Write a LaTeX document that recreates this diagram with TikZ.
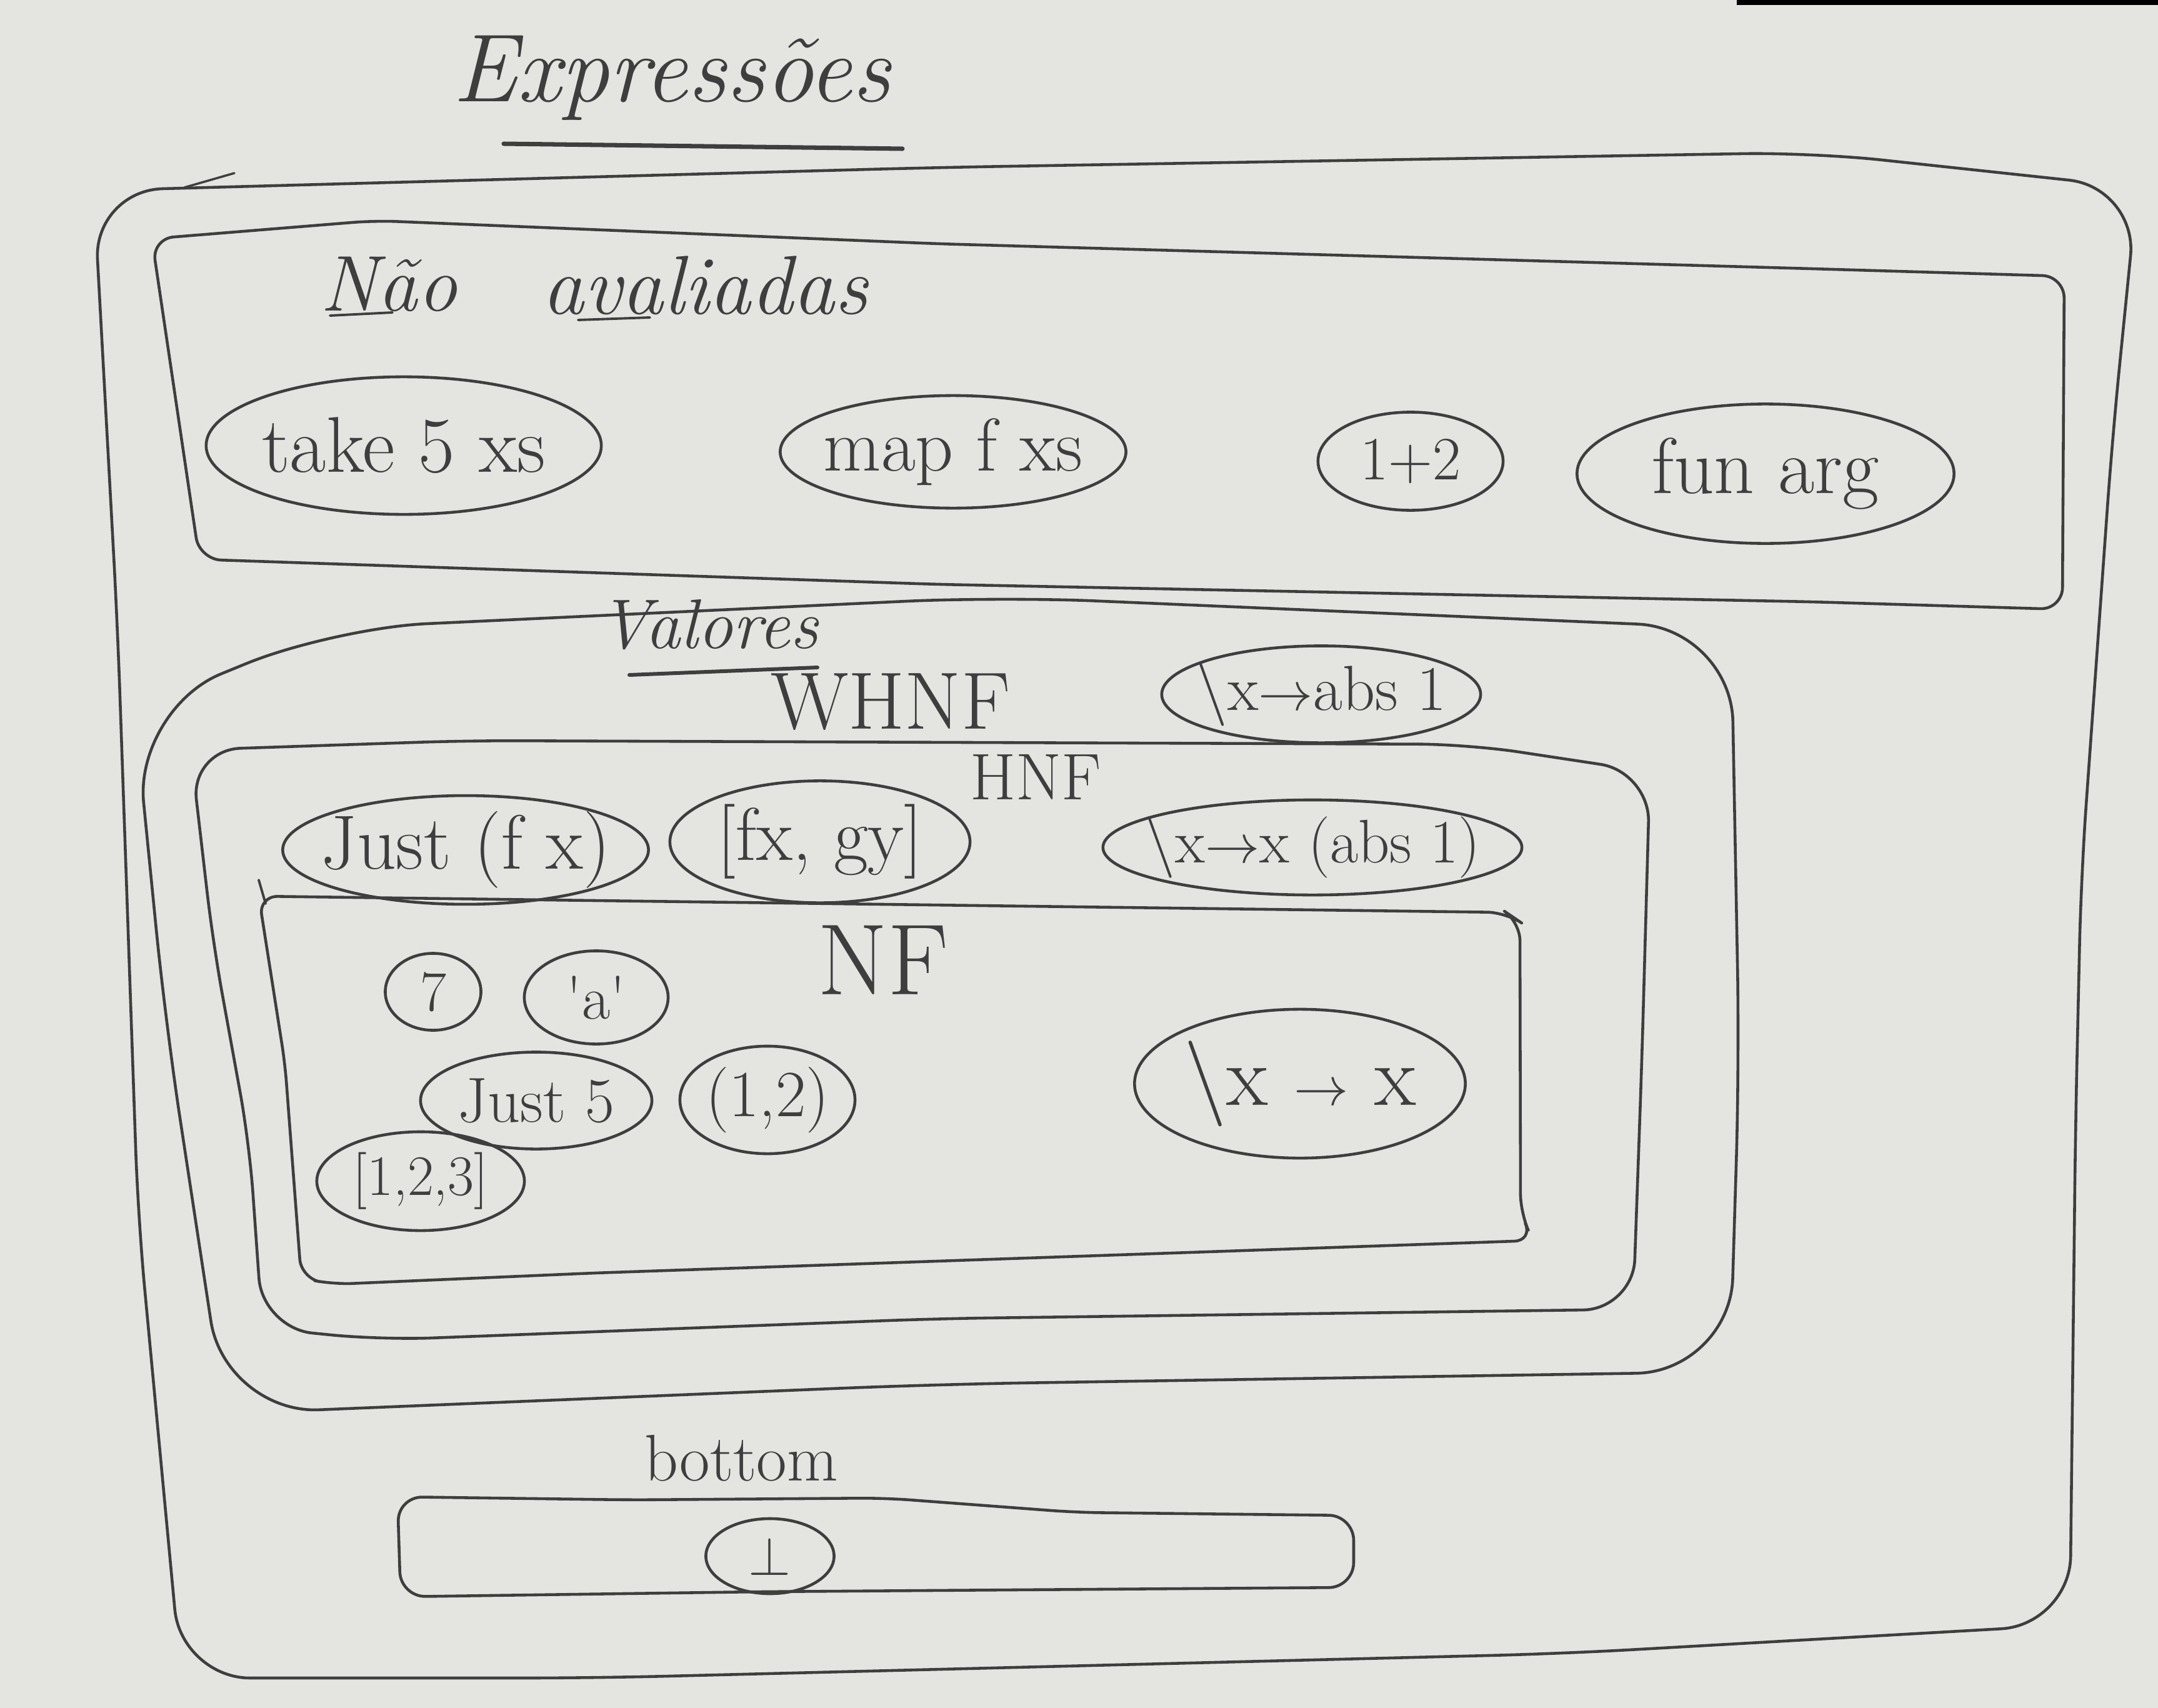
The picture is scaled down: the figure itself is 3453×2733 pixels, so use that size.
\documentclass[tikz,border=0pt]{standalone}
\usepackage{fontspec}
\usetikzlibrary{shapes.geometric}
\definecolor{paper}{RGB}{228,228,225}
\definecolor{pencil}{RGB}{62,62,62}
\begin{document}
\begin{tikzpicture}[x=0.01cm, y=-0.01cm,
  box/.style={draw=pencil, line width=1.3pt, rounded corners=#1, line join=round},
  box/.default=0.8cm,
  stroke/.style={draw=pencil, line width=1.3pt, line cap=round},
  blob/.style={draw=pencil, line width=1.3pt, ellipse, inner sep=0pt, text=pencil},
  lbl/.style={text=pencil, inner sep=0pt},
  fs/.style={font=\fontsize{#1}{#1}\selectfont},
  hand/.style={font=\fontsize{#1}{#1}\selectfont\itshape},
]
% sheet
\useasboundingbox (0,0) rectangle (3453,2733);
\fill[paper] (0,0) rectangle (3453,2733);
\fill[black] (2779,0) rectangle (3453,8);

% title
\node[lbl, hand=44] (title) at (1075,125) {Expressões};
\draw[stroke, line width=2pt] (806,230) -- (1444,238);

% outer frame: all expressions
\draw[box=1.1cm] (150,305) -- (1500,268) -- (2900,244) -- (3420,300)
  -- (3380,700) -- (3330,1400) -- (3321,1800) -- (3312,2600)
  -- (2500,2646) -- (950,2685) -- (290,2685)
  -- (221,1950) -- (188,1000) -- cycle;
\draw[stroke, line width=1pt] (295,300) -- (375,277);

% unevaluated expressions
\draw[box=0.35cm] (243,382) -- (600,353) -- (1500,390) -- (2900,430)
  -- (3303,442) -- (3300,975) -- (2900,963) -- (1500,935) -- (319,895) -- cycle;
\node[lbl, hand=36] (nao) at (622,455) {Não};
\node[lbl, hand=38] (aval) at (1128,457) {avaliadas};
\draw[stroke, line width=1.1pt] (528,505) -- (628,500);
\draw[stroke, line width=1.1pt] (925,512) -- (1040,508);

\node[blob, minimum width=6.32cm, minimum height=2.2cm, fs=36] (take) at (646,713) {\makebox[0pt]{take 5 xs}};
\node[blob, minimum width=5.53cm, minimum height=1.8cm, fs=34] (map) at (1525,723) {\makebox[0pt]{map f xs}};
\node[blob, minimum width=2.96cm, minimum height=1.57cm, fs=28] (onetwo) at (2257,738) {\makebox[0pt]{1+2}};
\node[blob, minimum width=6.03cm, minimum height=2.23cm, fs=36] (funarg) at (2825,758) {\makebox[0pt]{fun arg}};

% values
\node[lbl, hand=32] (valores) at (1134,1000) {Valores};
\draw[stroke, line width=1.7pt] (1007,1080) -- (1308,1068);
\draw[box=1.5cm] (215,1135) -- (533,1005) -- (1600,955) -- (2770,1005)
  -- (2783,1700) -- (2768,2195) -- (1500,2215) -- (360,2262)
  -- (265,1638) -- cycle;
\node[lbl, fs=37] (whnf) at (1425,1123) {WHNF};
\node[blob, minimum width=5.1cm, minimum height=1.55cm, fs=29] (lamabs) at (2114,1111) {\makebox[0pt]{\textbackslash x$\to$abs 1}};

% head normal form
\draw[box=0.8cm] (305,1200) -- (750,1185) -- (2350,1191) -- (2640,1235)
  -- (2627,1700) -- (2613,2095) -- (1500,2110) -- (609,2144) -- (420,2125)
  -- (399,1829) -- (341,1510) -- cycle;
\node[lbl, fs=30] (hnf) at (1657,1243) {HNF};
\node[blob, minimum width=5.85cm, minimum height=1.7cm, fs=35] (justfx) at (745,1360) {\makebox[0pt]{Just (f x)}};
\node[blob, minimum width=4.8cm, minimum height=1.95cm, fs=34] (list) at (1312,1347) {\makebox[0pt]{[fx, gy]}};
\node[blob, minimum width=6.7cm, minimum height=1.52cm, fs=28] (lamx) at (2100,1356) {\makebox[0pt]{\textbackslash x$\to$x (abs 1)}};

% normal form
\draw[box=0.3cm] (414,1434) -- (2410,1460) -- (2432,1475) -- (2433,1941)
  -- (2453,1985) -- (950,2037) -- (533,2055) -- (482,2045) -- (456,1702) -- cycle;
\draw[stroke, line width=1.1pt] (414,1408) -- (425,1446);
\node[lbl, fs=46] (nf) at (1413,1536) {NF};
\node[blob, minimum width=1.53cm, minimum height=1.23cm, fs=26] (seven) at (693,1587) {\makebox[0pt]{7}};
\node[blob, minimum width=2.3cm, minimum height=1.49cm, fs=28] (chara) at (954,1596) {\makebox[0pt]{\textquotesingle a\textquotesingle}};
\node[blob, minimum width=3.7cm, minimum height=1.55cm, fs=29] (just5) at (858,1761) {\makebox[0pt]{Just 5}};
\node[blob, minimum width=2.8cm, minimum height=1.72cm, fs=30] (pair) at (1228,1760) {\makebox[0pt]{(1,2)}};
\node[blob, minimum width=3.32cm, minimum height=1.58cm, fs=26] (list3) at (673,1890) {\makebox[0pt]{[1,2,3]}};
\node[blob, minimum width=5.29cm, minimum height=2.38cm, fs=39] (ident) at (2080,1734) {\makebox[0pt]{\textbackslash x $\to$ x}};

% bottom
\node[lbl, fs=30] (bottom) at (1186,2333) {bottom};
\draw[box=0.4cm] (636,2395) -- (1008,2400) -- (1416,2397) -- (1722,2420)
  -- (2166,2425) -- (2166,2540) -- (1212,2547) -- (641,2555) -- cycle;
\node[blob, minimum width=2.05cm, minimum height=1.2cm, fs=30] (bot) at (1232,2490) {\makebox[0pt]{$\bot$}};
\end{tikzpicture}
\end{document}
